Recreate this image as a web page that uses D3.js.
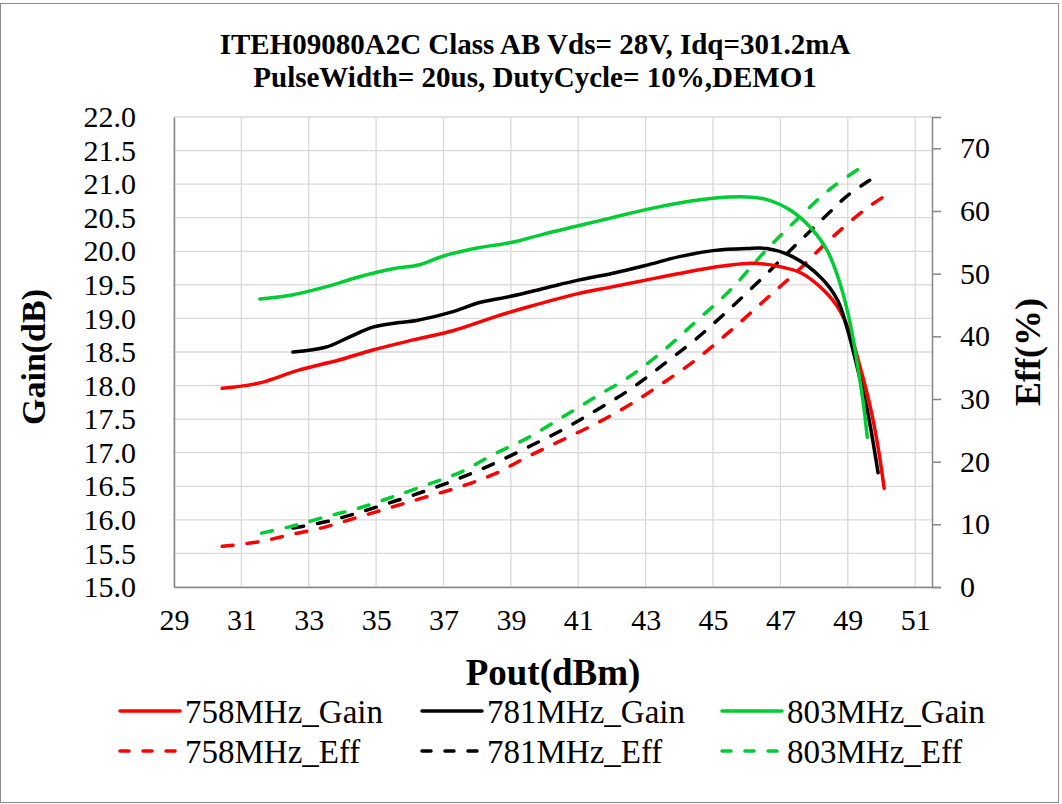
<!doctype html>
<html lang="en">
<head>
    <meta charset="UTF-8">
    <title>ITEH09080A2C Gain / Eff</title>
    <script type="text/javascript" src="https://cdn.jsdelivr.net/npm/d3@7"></script>
    <style type="text/css">
        body {
            margin: 0;
            background: #fff;
        }

        text {
            font-family: "Liberation Serif", "Times New Roman", serif;
            fill: #000;
        }

        .grid line {
            stroke: #d9d9d9;
            stroke-width: 1.3;
        }
    </style>
</head>
<body>
<script type="text/javascript">

    var w = 1062;
    var h = 804;

    // plot area (not "top": that name belongs to window)
    var pLeft = 174, pRight = 932, pTop = 117, pBottom = 587;

    var titleLines = ["ITEH09080A2C Class AB Vds= 28V, Idq=301.2mA",
        "PulseWidth= 20us, DutyCycle= 10%,DEMO1"];

    var xTicks = [29, 31, 33, 35, 37, 39, 41, 43, 45, 47, 49, 51];
    var gainTicks = [15.0, 15.5, 16.0, 16.5, 17.0, 17.5, 18.0, 18.5, 19.0, 19.5, 20.0, 20.5, 21.0, 21.5, 22.0];
    var effTicks = [0, 10, 20, 30, 40, 50, 60, 70];

    // [Pout, Gain]
    var gain758 = [[30.43, 17.96], [31.55, 18.04], [32.7, 18.23], [33.9, 18.38], [34.9, 18.53], [36.1, 18.68],
        [37.3, 18.82], [38.5, 19.02], [39.5, 19.17], [41, 19.37], [42, 19.47], [43, 19.57], [44, 19.67],
        [45, 19.76], [46.2, 19.82], [47.0, 19.77], [47.6, 19.68], [48.2, 19.46], [48.7, 19.17], [49.07, 18.78],
        [49.37, 18.27], [49.67, 17.68], [49.9, 17.08], [50.08, 16.47]];
    var gain781 = [[32.53, 18.5], [33.5, 18.57], [34.2, 18.72], [34.9, 18.87], [35.7, 18.94], [36.2, 18.97],
        [37.2, 19.09], [38.1, 19.24], [39.0, 19.33], [40, 19.45], [41, 19.57], [42, 19.67], [43, 19.79],
        [44, 19.92], [45, 20.01], [46, 20.04], [46.6, 20.04], [47.4, 19.91], [48.2, 19.61], [48.7, 19.27],
        [49.0, 18.82], [49.3, 18.23], [49.58, 17.63], [49.9, 16.7]];
    var gain803 = [[31.55, 19.29], [32.5, 19.35], [33.5, 19.47], [34.5, 19.62], [35.5, 19.74], [36.3, 19.8],
        [37, 19.93], [38, 20.05], [39, 20.13], [40, 20.26], [41, 20.38], [42, 20.5], [43, 20.62], [44, 20.72],
        [45, 20.79], [46, 20.81], [46.6, 20.77], [47.3, 20.61], [47.9, 20.35], [48.4, 20.0], [48.77, 19.52],
        [49.07, 18.93], [49.28, 18.33], [49.46, 17.74], [49.58, 17.23]];

    // [Pout, Eff]
    var eff758 = [[30.43, 6.5], [31.5, 7.2], [32.5, 8.4], [33.5, 9.6], [34.5, 11.2], [35.5, 12.8], [36.5, 14.4],
        [37.5, 16.0], [38.5, 18.0], [39.5, 20.8], [40.5, 23.4], [41.5, 26.0], [42.5, 29.0], [43.5, 32.5],
        [44.5, 36.3], [45.5, 40.8], [46.5, 45.6], [47.5, 50.4], [48.5, 55.6], [49.5, 60.2], [50.1, 62.4]];
    var eff781 = [[32.53, 9.4], [33.5, 10.4], [34.5, 11.9], [35.5, 13.6], [36.5, 15.4], [37.5, 17.4],
        [38.5, 19.7], [39.5, 22.3], [40.5, 25.0], [41.5, 28.1], [42.5, 31.4], [43.5, 35.4], [44.5, 39.6],
        [45.5, 44.4], [46.5, 49.5], [47.5, 54.8], [48.5, 60.0], [49.0, 62.5], [49.65, 64.9]];
    var eff803 = [[31.6, 8.6], [32.5, 9.7], [33.5, 11.2], [34.5, 12.6], [35.5, 14.4], [36.5, 16.3],
        [37.5, 18.3], [38.5, 21.2], [39.5, 23.8], [40.5, 27.0], [41.5, 30.3], [42.5, 33.5], [43.5, 37.6],
        [44.5, 42.4], [45.5, 47.3], [46.5, 53.3], [47.5, 58.7], [48.5, 63.6], [49.35, 66.8]];

    var seriesNames = ["758MHz_Gain", "781MHz_Gain", "803MHz_Gain", "758MHz_Eff", "781MHz_Eff", "803MHz_Eff"];
    var colors = ["#ff0000", "#000000", "#00cc33"];

    var xScale = d3.scaleLinear().domain([29, 51.5]).range([pLeft, pRight]);
    var gScale = d3.scaleLinear().domain([15, 22]).range([pBottom, pTop]);
    var eScale = d3.scaleLinear().domain([0, 75]).range([pBottom, pTop]);

    var svg = d3.select("body")
        .append("svg")
        .attr("width", w)
        .attr("height", h);

    // outer border
    svg.append("rect")
        .attr("x", 0.5).attr("y", 3.5)
        .attr("width", w - 4).attr("height", h - 5)
        .attr("fill", "#fff")
        .attr("stroke", "#8c8c8c");

    // title
    svg.selectAll(".title")
        .data(titleLines)
        .enter()
        .append("text")
        .attr("class", "title")
        .attr("x", 535)
        .attr("y", function (d, i) {
            return 54 + i * 33;
        })
        .attr("text-anchor", "middle")
        .attr("font-size", "29px")
        .attr("font-weight", "bold")
        .text(function (d) {
            return d;
        });

    // gridlines
    var grid = svg.append("g").attr("class", "grid");
    grid.selectAll(".vx")
        .data(xTicks)
        .enter()
        .append("line")
        .attr("x1", function (d) { return xScale(d); })
        .attr("x2", function (d) { return xScale(d); })
        .attr("y1", pTop).attr("y2", pBottom);
    grid.selectAll(".hy")
        .data(gainTicks)
        .enter()
        .append("line")
        .attr("x1", pLeft).attr("x2", pRight)
        .attr("y1", function (d) { return gScale(d); })
        .attr("y2", function (d) { return gScale(d); });

    // axes
    var xAxis = d3.axisBottom(xScale).tickValues(xTicks).tickSize(0).tickPadding(22)
        .tickFormat(d3.format("d"));
    var gAxis = d3.axisLeft(gScale).tickValues(gainTicks).tickSize(0).tickPadding(38)
        .tickFormat(d3.format(".1f"));
    var eAxis = d3.axisRight(eScale).tickValues(effTicks).tickSize(9).tickPadding(19)
        .tickFormat(d3.format("d"));

    var gx = svg.append("g").attr("transform", "translate(0," + pBottom + ")").call(xAxis);
    var gy = svg.append("g").attr("transform", "translate(" + pLeft + ",0)").call(gAxis);
    var ge = svg.append("g").attr("transform", "translate(" + pRight + ",0)").call(eAxis);

    [gx, gy, ge].forEach(function (g) {
        g.select(".domain").attr("stroke", "#868686").attr("stroke-width", 1.5);
        g.selectAll(".tick line").attr("stroke", "#868686").attr("stroke-width", 1.5);
        g.selectAll(".tick text")
            .attr("font-family", "Liberation Serif, Times New Roman, serif")
            .attr("font-size", "30px")
            .attr("fill", "#000");
    });

    // axis titles
    svg.append("text")
        .attr("transform", "translate(45,357) rotate(-90)")
        .attr("text-anchor", "middle")
        .attr("font-size", "34px")
        .attr("font-weight", "bold")
        .text("Gain(dB)");
    svg.append("text")
        .attr("transform", "translate(1040,352) rotate(-90)")
        .attr("text-anchor", "middle")
        .attr("font-size", "36px")
        .attr("font-weight", "bold")
        .text("Eff(%)");
    svg.append("text")
        .attr("x", 553).attr("y", 685)
        .attr("text-anchor", "middle")
        .attr("font-size", "37px")
        .attr("font-weight", "bold")
        .text("Pout(dBm)");

    // lines
    var gainLine = d3.line()
        .x(function (d) { return xScale(d[0]); })
        .y(function (d) { return gScale(d[1]); })
        .curve(d3.curveCatmullRom.alpha(0.5));
    var effLine = d3.line()
        .x(function (d) { return xScale(d[0]); })
        .y(function (d) { return eScale(d[1]); })
        .curve(d3.curveCatmullRom.alpha(0.5));

    var dash = "11,14";

    svg.selectAll(".eff")
        .data([eff758, eff781, eff803])
        .enter()
        .append("path")
        .attr("class", "eff")
        .attr("d", effLine)
        .attr("fill", "none")
        .attr("stroke", function (d, i) { return colors[i]; })
        .attr("stroke-width", 3.5)
        .attr("stroke-linecap", "round")
        .attr("stroke-dasharray", dash);

    svg.selectAll(".gain")
        .data([gain758, gain781, gain803])
        .enter()
        .append("path")
        .attr("class", "gain")
        .attr("d", gainLine)
        .attr("fill", "none")
        .attr("stroke", function (d, i) { return colors[i]; })
        .attr("stroke-width", 3.5)
        .attr("stroke-linecap", "round");

    // legend
    var legX = [118, 420, 720];
    var legY = [711, 751];
    var legend = svg.selectAll(".leg")
        .data(seriesNames)
        .enter()
        .append("g")
        .attr("class", "leg")
        .attr("transform", function (d, i) {
            return "translate(" + legX[i % 3] + "," + legY[Math.floor(i / 3)] + ")";
        });
    legend.append("line")
        .attr("x1", 2).attr("x2", 62)
        .attr("y1", 0).attr("y2", 0)
        .attr("stroke", function (d, i) { return colors[i % 3]; })
        .attr("stroke-width", 3.5)
        .attr("stroke-linecap", "round")
        .attr("stroke-dasharray", function (d, i) { return i < 3 ? null : "9,14"; });
    legend.append("text")
        .attr("x", 67).attr("y", 0)
        .attr("dy", "0.35em")
        .attr("font-size", "33px")
        .text(function (d) { return d; });

</script>

</body>
</html>
